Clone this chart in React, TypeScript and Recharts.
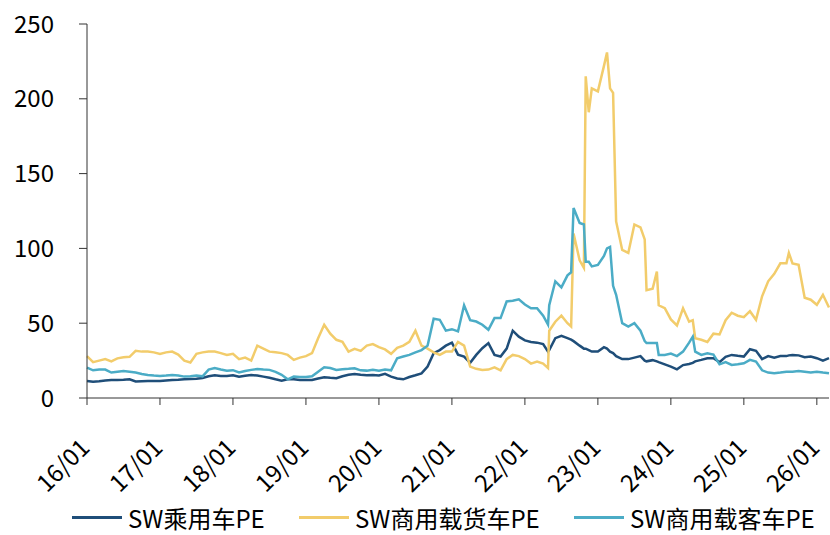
import { LineChart, Line, XAxis, YAxis, Legend } from "recharts";

// 月份序号：0 = 2016/01（少量小数点位用于捕捉急涨急跌）
const months = [
  0, 1, 2, 3, 4, 5, 6, 7, 8, 9, 10, 11,
  12, 13, 14, 15, 16, 17, 18, 19, 20, 21, 22, 23,
  24, 25, 26, 27, 28, 29, 30, 31, 32, 33, 34, 35,
  36, 37, 38, 39, 40, 41, 42, 43, 44, 45, 46, 47,
  48, 49, 50, 51, 52, 53, 54, 55, 56, 57, 58, 59,
  60, 61, 62, 63, 64, 65, 66, 67, 68, 69, 70, 71,
  72, 73, 74, 75, 75.8, 76, 77, 78, 79, 79.6, 80, 81, 81.7, 82, 82.5, 83,
  84, 85, 85.5, 86, 86.5, 87, 88, 89, 90, 91, 91.7, 92, 93, 93.7, 94, 95,
  96, 97, 98, 99, 99.6, 100, 101, 102, 103, 104, 105, 106, 107,
  108, 109, 110, 111, 112, 113, 114, 115, 115.4, 116, 117, 118, 119, 120, 121, 122,
];

// SW乘用车PE
const carPE = [
  11.4, 10.9, 11.2, 11.7, 12, 12, 12.2, 12.5, 11, 11.2, 11.4, 11.4,
  11.4, 11.7, 12, 12.2, 12.5, 12.7, 12.9, 13.4, 14.5, 15.2, 14.7, 14.7,
  15.2, 14.2, 14.8, 15.4, 15, 14.3, 13.5, 12.5, 11.6, 12.5, 12.5, 12,
  12, 12, 13, 13.9, 13.5, 13.2, 14.5, 15.5, 16, 15.5, 15.2, 15.3,
  15, 16.2, 14.3, 13, 12.5, 14, 15.2, 16.5, 21, 30, 32, 35,
  37, 29, 27.7, 23.5, 28.8, 33.3, 36.7, 28.8, 27.7, 33, 45, 41,
  38.5, 37.5, 37, 36, 31, 32, 40, 41.5, 40, 39, 38, 35, 33, 33, 32, 31,
  31, 34, 33, 31, 30, 28, 26, 26, 27, 28, 25, 24.5, 25.3, 24.5, 24, 22.5,
  21, 19.2, 22, 22.7, 23.5, 24.5, 25.5, 26.6, 26.6, 24, 27.5, 28.8, 28.2,
  27.7, 32.6, 31.5, 26, 28, 27, 28, 28, 28.5, 28.8, 28.5, 27.3, 27.7, 26.6, 25, 26.6,
];

// SW商用载货车PE
const truckPE = [
  28, 24, 25, 26, 24.5, 26.5, 27.3, 27.5, 31.5, 31, 31, 30.5,
  29.5, 30.5, 31, 29, 25, 23.7, 29.5, 30.5, 31, 31, 30, 28.8,
  29.5, 26, 27, 25, 35, 33, 31, 30.6, 30, 28.8, 25.5, 27,
  28, 30, 40, 49, 43, 38.9, 37.5, 31, 32.8, 31.5, 35, 36,
  34, 32.5, 29.5, 33.5, 35, 37.5, 45, 35, 33, 30.5, 28.8, 31,
  31, 37.5, 35, 21, 19.5, 18.8, 19, 20.5, 18.5, 26, 28.8, 28,
  26, 23, 24.3, 23, 20, 45, 51, 55, 50, 47.8, 110, 92, 87, 215, 191, 207,
  205, 222, 231, 207, 204, 118, 99, 97, 116, 114, 106, 72, 73, 84.5, 62, 60,
  52.5, 48.5, 60, 51, 52, 40, 38.9, 37.5, 43, 42.5, 52, 57, 55,
  54, 58, 52.3, 68, 78, 83, 90, 90, 97, 90, 89, 67, 65.7, 62.3, 69, 60.5,
];

// SW商用载客车PE
const busPE = [
  20.3, 18.5, 19, 19, 17, 17.5, 18, 17.5, 17, 16, 15.4, 15,
  14.7, 15, 15.4, 15, 14.3, 14.5, 15, 14.5, 19, 20, 19, 18.3,
  18.6, 17.1, 18, 18.8, 19.4, 19, 18.8, 17.5, 15.5, 12.5, 14.3, 14,
  14, 14.5, 17.6, 20.5, 20, 18.8, 19.2, 19.5, 19.9, 18.5, 18.3, 18.8,
  18.3, 19, 18.5, 26.6, 27.7, 28.8, 30.5, 32, 35, 53, 52.3, 45,
  46, 44.5, 62, 52, 51.1, 49, 45.6, 53.4, 53.4, 64.5, 65, 66,
  62.5, 60, 60, 55, 49, 62, 78, 74, 82, 84, 127, 117, 116, 91, 91, 88,
  89, 95, 100, 101, 75, 69, 50, 47.8, 50, 45, 38, 36.7, 36.7, 36.7, 28.8, 28.8,
  29.7, 28, 31, 37, 41, 31, 28.8, 29.9, 29, 22.5, 24, 22.1, 22.5,
  23.2, 25.5, 24.3, 18.5, 17, 16.5, 17, 17.6, 17.6, 17.6, 18, 17.5, 17, 17.6, 17, 16.5,
];

const tickLabels = ["16/01", "17/01", "18/01", "19/01", "20/01", "21/01", "22/01", "23/01", "24/01", "25/01", "26/01"];
const tickMonths = tickLabels.map((_, i) => i * 12);
const yTicks = [0, 50, 100, 150, 200, 250];

const series = [
  { key: "car", name: "SW乘用车PE", color: "#1F4E79" },
  { key: "truck", name: "SW商用载货车PE", color: "#F2CC6B" },
  { key: "bus", name: "SW商用载客车PE", color: "#4BACC6" },
];

const data = months.map((m, i) => ({
  m,
  car: carPE[i],
  truck: truckPE[i],
  bus: busPE[i],
}));

const FONT = "'Noto Sans CJK SC', 'Noto Sans', sans-serif";
const AXIS = "#333";
const legendLeft = [72, 299, 574];
const LEGEND_H = 35;

// 斜 45° 的日期标签，末端对齐刻度线
function DateTick({ x, y, payload }: any) {
  const label = tickLabels[Math.round(Number(payload.value) / 12)] ?? "";
  return (
    <g transform={`translate(${x - 8},${y + 11})`}>
      <text transform="rotate(-45)" textAnchor="end" dy="0.72em" fontSize={24} fill="#000" fontFamily={FONT}>
        {label}
      </text>
    </g>
  );
}

function LegendRow() {
  return (
    <div style={{ position: "relative", width: 830, height: LEGEND_H, fontFamily: FONT, fontSize: 24, color: "#000" }}>
      {series.map((s, i) => (
        <div
          key={s.key}
          style={{ position: "absolute", left: legendLeft[i], top: 0, height: LEGEND_H, display: "flex", alignItems: "center", whiteSpace: "nowrap" }}
        >
          <span style={{ display: "inline-block", width: 50, height: 3, background: s.color }} />
          <span style={{ marginLeft: 6, lineHeight: `${LEGEND_H}px` }}>{s.name}</span>
        </div>
      ))}
    </div>
  );
}

export default function App() {
  return (
    <div style={{ position: "absolute", left: 0, top: 0, width: 830, height: 535, background: "#fff" }}>
      <LineChart width={830} height={535} data={data} margin={{ top: 24, right: 1, bottom: 0, left: 0 }}>
        <XAxis
          dataKey="m"
          type="number"
          domain={[0, 122]}
          ticks={tickMonths}
          interval={0}
          height={137 - LEGEND_H}
          tickSize={7}
          tickMargin={21}
          tick={<DateTick />}
          stroke={AXIS}
          tickLine={{ stroke: AXIS }}
          axisLine={{ stroke: AXIS }}
        />
        <YAxis
          type="number"
          domain={[0, 250]}
          ticks={yTicks}
          interval={0}
          width={87}
          tickSize={8}
          tickMargin={25}
          tick={{ fontSize: 24, fill: "#000", fontFamily: FONT }}
          stroke={AXIS}
          tickLine={{ stroke: AXIS }}
          axisLine={{ stroke: AXIS }}
        />
        <Legend
          verticalAlign="bottom"
          wrapperStyle={{ left: 0, width: 830, height: LEGEND_H }}
          content={() => <LegendRow />}
        />
        {series.map((s) => (
          <Line
            key={s.key}
            type="linear"
            dataKey={s.key}
            name={s.name}
            stroke={s.color}
            strokeWidth={2.5}
            dot={false}
            activeDot={false}
            isAnimationActive={false}
          />
        ))}
      </LineChart>
    </div>
  );
}
